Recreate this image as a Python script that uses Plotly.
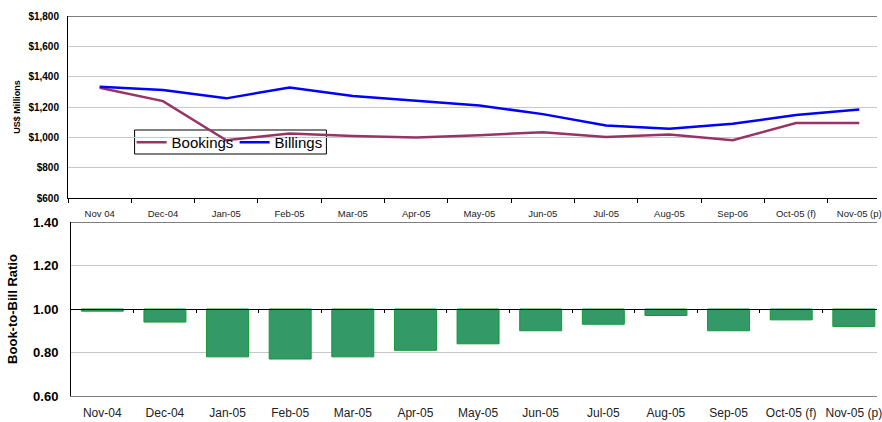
import plotly.graph_objects as go
from plotly.subplots import make_subplots

# Monthly categories (top panel labels and bottom panel labels differ slightly)
months_top = ["Nov 04", "Dec-04", "Jan-05", "Feb-05", "Mar-05", "Apr-05", "May-05",
              "Jun-05", "Jul-05", "Aug-05", "Sep-06", "Oct-05 (f)", "Nov-05 (p)"]
months_bottom = ["Nov-04", "Dec-04", "Jan-05", "Feb-05", "Mar-05", "Apr-05", "May-05",
                 "Jun-05", "Jul-05", "Aug-05", "Sep-05", "Oct-05 (f)", "Nov-05 (p)"]

# US$ millions
bookings = [1327, 1239, 981, 1025, 1008, 999, 1014, 1034, 1003, 1019, 981, 1094, 1094]
billings = [1333, 1312, 1257, 1329, 1272, 1241, 1210, 1153, 1078, 1056, 1089, 1147, 1184]

# Book-to-bill ratio
ratio = [0.99, 0.94, 0.78, 0.77, 0.78, 0.81, 0.84, 0.90, 0.93, 0.97, 0.90, 0.95, 0.92]

money_ticks = [600, 800, 1000, 1200, 1400, 1600, 1800]
money_labels = ["$600", "$800", "$1,000", "$1,200", "$1,400", "$1,600", "$1,800"]
ratio_ticks = [0.60, 0.80, 1.00, 1.20, 1.40]
ratio_labels = ["0.60", "0.80", "1.00", "1.20", "1.40"]

FONT = "Liberation Sans, Arial, sans-serif"
W, H = 882, 422
ML, MR, MT, MB = 68, 0, 16, 26
PW, PH = W - ML - MR, H - MT - MB
n = len(months_top)
idx = list(range(n))


def px_x(x):
    return (x - ML) / PW


def px_y(y):
    return (H - MB - y) / PH


fig = make_subplots(rows=2, cols=1)

fig.add_trace(go.Scatter(x=idx, y=bookings, mode="lines", name="Bookings",
                         line=dict(color="#993366", width=2.5)), row=1, col=1)
fig.add_trace(go.Scatter(x=idx, y=billings, mode="lines", name="Billings",
                         line=dict(color="#0000FF", width=2.5)), row=1, col=1)

# Bars hang from the 1.00 baseline
fig.add_trace(go.Bar(x=idx, y=[r - 1.0 for r in ratio], base=[1.0] * n,
                     width=0.67, showlegend=False,
                     marker=dict(color="#339966", line=dict(color="#119933", width=1))),
              row=2, col=1)

# Empty traces that carry the extra tick axes
fig.add_trace(go.Scatter(x=[], y=[], xaxis="x3", yaxis="y2", showlegend=False))
fig.add_trace(go.Scatter(x=[], y=[], xaxis="x4", yaxis="y", showlegend=False))

xr_top = [-0.5, 12.28]
xr_bot = [-0.5, 12.37]
bot_left = px_x(71)

fig.update_layout(
    width=W, height=H,
    margin=dict(l=ML, r=MR, t=MT, b=MB),
    plot_bgcolor="white", paper_bgcolor="white",
    font=dict(family=FONT, color="#000000"),
    legend=dict(orientation="h", x=px_x(132), y=px_y(126), xanchor="left", yanchor="top",
                borderwidth=0, bgcolor="rgba(0,0,0,0)",
                font=dict(size=15, family=FONT), entrywidth=58,
                tracegroupgap=0, traceorder="normal"),
    xaxis=dict(domain=[0, 1], range=xr_top, tickmode="array", tickvals=idx,
               ticktext=months_top, tickfont=dict(size=9.5, color="#222222"),
               ticklabelstandoff=7, ticklabeloverflow="allow",
               showline=True, linecolor="#000000", linewidth=1,
               ticks="", showgrid=False, zeroline=False),
    yaxis=dict(domain=[px_y(198), 1], range=[600, 1800], tickvals=money_ticks,
               ticktext=money_labels, tickfont=dict(size=10, color="#000000", weight="bold"),
               ticklabelstandoff=6,
               showline=True, linecolor="#000000", linewidth=1,
               gridcolor="#C8C8C8", gridwidth=1, zeroline=False,
               title=dict(text="US$ Millions", font=dict(size=9, weight="bold"), standoff=6)),
    xaxis2=dict(domain=[bot_left, 1], range=xr_bot, tickmode="array", tickvals=idx,
                ticktext=months_bottom, tickfont=dict(size=12, color="#222222"),
                ticklabelstandoff=6, ticklabeloverflow="allow",
                showline=True, linecolor="#808080", linewidth=1,
                ticks="", showgrid=False, zeroline=False),
    yaxis2=dict(domain=[0, px_y(222)], range=[0.60, 1.40], tickvals=ratio_ticks,
                ticktext=ratio_labels, tickfont=dict(size=13, color="#000000", weight="bold"),
                ticklabelstandoff=9,
                showline=True, linecolor="#000000", linewidth=1,
                gridcolor="#C8C8C8", gridwidth=1, zeroline=False,
                title=dict(text="Book-to-Bill Ratio", font=dict(size=13, weight="bold"), standoff=12)),
    # category axis crossing at 1.00, with boundary ticks
    xaxis3=dict(domain=[bot_left, 1], range=xr_bot, overlaying="x2", anchor="free",
                position=px_y(309), side="bottom", tickmode="array",
                tickvals=[i + 0.5 for i in range(n - 1)], ticks="outside", ticklen=3,
                tickcolor="#000000", showticklabels=False, showgrid=False,
                showline=True, linecolor="#000000", linewidth=1, zeroline=False),
    # boundary ticks under the top panel
    xaxis4=dict(domain=[0, 1], range=xr_top, overlaying="x", anchor="y", side="bottom",
                tickmode="array", tickvals=[i - 0.5 for i in range(n + 1)], ticks="outside",
                ticklen=4, tickcolor="#000000", showticklabels=False, showgrid=False,
                showline=False, zeroline=False),
)

# Top borders of both panels
fig.add_shape(type="line", xref="x domain", yref="y", x0=0, x1=1, y0=1800, y1=1800,
              line=dict(color="#000000", width=1))
fig.add_shape(type="line", xref="x2 domain", yref="y2", x0=0, x1=1, y0=1.40, y1=1.40,
              line=dict(color="#000000", width=1))

# Legend box: covers the gridlines but sits under the plotted lines
fig.add_shape(type="rect", xref="paper", yref="paper", layer="between",
              x0=px_x(135), x1=px_x(328), y0=px_y(154), y1=px_y(130),
              fillcolor="white", line=dict(color="#000000", width=1))

fig.write_html("out.html")
